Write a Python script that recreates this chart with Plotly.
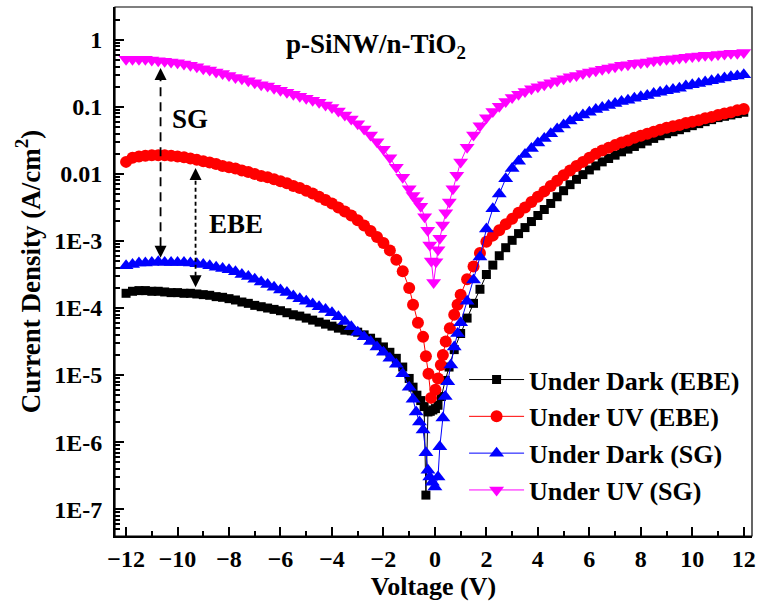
import plotly.graph_objects as go

# Bias sweep (V): coarse grid on both flanks, finer points around zero bias per series
VOLT_LEFT = [-12 + 0.25 * i for i in range(45)]   # -12 ... -1
VOLT_RIGHT = [1 + 0.25 * i for i in range(45)]    # 1 ... 12

# log10 of current density (A/cm^2)
# --- Under Dark (EBE)
dark_ebe_left = [-3.78, -3.75, -3.74, -3.74, -3.75, -3.75, -3.76, -3.77, -3.77, -3.78,
                 -3.78, -3.79, -3.80, -3.81, -3.83, -3.84, -3.86, -3.88, -3.91, -3.93,
                 -3.96, -3.98, -4.00, -4.02, -4.04, -4.07, -4.10, -4.12, -4.15, -4.18,
                 -4.21, -4.24, -4.27, -4.30, -4.33, -4.34, -4.36, -4.40, -4.45, -4.51,
                 -4.58, -4.66, -4.75, -4.88, -5.05]
dark_ebe_mid_v = [-0.85, -0.70, -0.55, -0.42, -0.35, -0.27, -0.18, -0.08, 0.02, 0.12,
                  0.25, 0.40, 0.55, 0.75]
dark_ebe_mid = [-5.18, -5.30, -5.38, -5.47, -6.79, -5.55, -5.54, -5.52, -5.50, -5.45,
                -5.32, -5.08, -4.88, -4.62]
dark_ebe_right = [-4.38, -4.15, -3.93, -3.72, -3.50, -3.36, -3.22, -3.10, -2.99, -2.89,
                  -2.80, -2.71, -2.62, -2.53, -2.44, -2.34, -2.25, -2.16, -2.08, -2.01,
                  -1.94, -1.88, -1.82, -1.77, -1.72, -1.67, -1.63, -1.59, -1.55, -1.51,
                  -1.47, -1.43, -1.40, -1.37, -1.34, -1.31, -1.28, -1.25, -1.22, -1.19,
                  -1.16, -1.14, -1.12, -1.10, -1.08]

# --- Under UV (EBE)
uv_ebe_left = [-1.82, -1.76, -1.74, -1.73, -1.72, -1.72, -1.72, -1.73, -1.74, -1.75,
               -1.77, -1.79, -1.81, -1.83, -1.85, -1.88, -1.90, -1.92, -1.95, -1.97,
               -2.00, -2.03, -2.05, -2.08, -2.11, -2.14, -2.18, -2.21, -2.25, -2.29,
               -2.34, -2.39, -2.44, -2.50, -2.56, -2.62, -2.69, -2.77, -2.85, -2.94,
               -3.03, -3.14, -3.28, -3.45, -3.70]
uv_ebe_mid_v = [-0.85, -0.66, -0.46, -0.35, -0.25, -0.15, 0.02, 0.12, 0.23, 0.31,
                0.42, 0.58, 0.75, 0.88]
uv_ebe_mid = [-3.95, -4.22, -4.43, -4.72, -4.98, -5.34, -5.22, -5.05, -4.85, -4.70,
              -4.50, -4.30, -4.10, -3.95]
uv_ebe_right = [-3.80, -3.57, -3.38, -3.18, -3.01, -2.92, -2.84, -2.75, -2.67, -2.58,
                -2.50, -2.42, -2.34, -2.26, -2.18, -2.10, -2.02, -1.95, -1.88, -1.82,
                -1.76, -1.70, -1.65, -1.61, -1.57, -1.53, -1.50, -1.46, -1.43, -1.40,
                -1.37, -1.34, -1.31, -1.29, -1.27, -1.24, -1.22, -1.20, -1.17, -1.15,
                -1.12, -1.10, -1.08, -1.05, -1.03]

# --- Under Dark (SG)
dark_sg_left = [-3.37, -3.35, -3.33, -3.33, -3.32, -3.31, -3.32, -3.32, -3.32, -3.32,
                -3.33, -3.34, -3.35, -3.37, -3.39, -3.41, -3.43, -3.46, -3.50, -3.53,
                -3.57, -3.61, -3.65, -3.69, -3.73, -3.77, -3.82, -3.86, -3.90, -3.94,
                -3.98, -4.02, -4.07, -4.13, -4.20, -4.28, -4.36, -4.43, -4.50, -4.58,
                -4.66, -4.75, -4.84, -4.98, -5.18]
dark_sg_mid_v = [-0.85, -0.73, -0.60, -0.46, -0.35, -0.27, -0.20, -0.10, 0.00, 0.12,
                 0.19, 0.31, 0.40, 0.50, 0.62, 0.75, 0.88]
dark_sg_mid = [-5.36, -5.55, -5.70, -5.82, -6.16, -6.42, -6.52, -6.60, -6.67, -6.52,
               -6.07, -5.64, -5.32, -5.10, -4.85, -4.58, -4.38]
dark_sg_right = [-4.22, -3.90, -3.58, -3.24, -2.82, -2.52, -2.30, -2.07, -1.92, -1.81,
                 -1.71, -1.62, -1.54, -1.47, -1.40, -1.33, -1.27, -1.21, -1.16, -1.12,
                 -1.08, -1.04, -1.01, -0.98, -0.95, -0.92, -0.90, -0.87, -0.85, -0.83,
                 -0.80, -0.78, -0.76, -0.74, -0.72, -0.69, -0.67, -0.65, -0.63, -0.61,
                 -0.59, -0.57, -0.55, -0.54, -0.52]

# --- Under UV (SG)
uv_sg_left = [-0.29, -0.29, -0.29, -0.29, -0.30, -0.31, -0.32, -0.33, -0.34, -0.36,
              -0.38, -0.40, -0.43, -0.45, -0.48, -0.50, -0.53, -0.56, -0.58, -0.61,
              -0.64, -0.67, -0.69, -0.72, -0.75, -0.78, -0.81, -0.84, -0.87, -0.90,
              -0.93, -0.97, -1.01, -1.06, -1.12, -1.18, -1.25, -1.33, -1.42, -1.52,
              -1.63, -1.76, -1.90, -2.05, -2.22]
uv_sg_mid_v = [-0.85, -0.70, -0.55, -0.40, -0.28, -0.20, -0.14, -0.05, 0.04, 0.12,
               0.19, 0.30, 0.42, 0.56, 0.70, 0.85]
uv_sg_mid = [-2.32, -2.40, -2.48, -2.64, -2.84, -3.06, -3.30, -3.62, -3.31, -3.13,
             -2.96, -2.76, -2.58, -2.42, -2.22, -2.02]
uv_sg_right = [-1.82, -1.60, -1.42, -1.28, -1.16, -1.07, -0.99, -0.92, -0.86, -0.81,
               -0.77, -0.73, -0.70, -0.67, -0.64, -0.61, -0.58, -0.55, -0.53, -0.50,
               -0.48, -0.46, -0.44, -0.42, -0.40, -0.38, -0.37, -0.35, -0.34, -0.33,
               -0.31, -0.30, -0.29, -0.28, -0.27, -0.26, -0.25, -0.24, -0.23, -0.23,
               -0.22, -0.21, -0.20, -0.20, -0.19]

SERIES = [
    ("Under Dark (EBE)", dark_ebe_left, dark_ebe_mid_v, dark_ebe_mid, dark_ebe_right,
     "#000000", "square", 9),
    ("Under UV (EBE)", uv_ebe_left, uv_ebe_mid_v, uv_ebe_mid, uv_ebe_right,
     "#FF0000", "circle", 12),
    ("Under Dark (SG)", dark_sg_left, dark_sg_mid_v, dark_sg_mid, dark_sg_right,
     "#0000FF", "triangle-up", 13),
    ("Under UV (SG)", uv_sg_left, uv_sg_mid_v, uv_sg_mid, uv_sg_right,
     "#FF00FF", "triangle-down", 13),
]

Y_TICK_VALS = [1e-7, 1e-6, 1e-5, 1e-4, 1e-3, 1e-2, 1e-1, 1]
Y_TICK_TEXT = ["1E-7", "1E-6", "1E-5", "1E-4", "1E-3", "0.01", "0.1", "1"]
X_TICK_VALS = [-12, -10, -8, -6, -4, -2, 0, 2, 4, 6, 8, 10, 12]

# Double arrows: (voltage, log10 of upper tip, log10 of lower tip, dash pattern)
ARROWS = [
    (-10.66, -0.42, -3.25, "9px,6px"),   # SG: dark -> UV
    (-9.30, -1.91, -3.69, "4px,3px"),    # EBE: dark -> UV
]
HEAD = 0.17   # arrowhead length in decades

FONT = "Liberation Serif, Times New Roman, serif"

fig = go.Figure()
for name, left, mid_v, mid, right, color, symbol, size in SERIES:
    volts = VOLT_LEFT + mid_v + VOLT_RIGHT
    logj = left + mid + right
    fig.add_trace(go.Scatter(
        x=volts,
        y=[10 ** v for v in logj],
        mode="lines+markers",
        name=name,
        line=dict(color=color, width=1),
        marker=dict(symbol=symbol, size=size, color=color, line=dict(width=0)),
    ))

for vx, top, bot, dash in ARROWS:
    fig.add_trace(go.Scatter(
        x=[vx, vx], y=[10 ** (bot + HEAD), 10 ** (top - HEAD)],
        mode="lines", line=dict(color="black", width=1.8, dash=dash),
        showlegend=False, hoverinfo="skip",
    ))
    fig.add_trace(go.Scatter(
        x=[vx, vx], y=[10 ** top, 10 ** bot],
        mode="markers",
        marker=dict(symbol=["arrow-up", "arrow-down"], size=12, color="black",
                    line=dict(width=0)),
        showlegend=False, hoverinfo="skip",
    ))

fig.add_annotation(x=0.117, y=0.788, xref="paper", yref="paper", text="SG",
                   xanchor="center", yanchor="middle", showarrow=False,
                   font=dict(size=27, family=FONT, color="black", weight="bold"))
fig.add_annotation(x=0.19, y=0.59, xref="paper", yref="paper", text="EBE",
                   xanchor="center", yanchor="middle", showarrow=False,
                   font=dict(size=27, family=FONT, color="black", weight="bold"))
fig.add_annotation(x=0.41, y=0.962, xref="paper", yref="paper",
                   text="p-SiNW/n-TiO<sub>2</sub>",
                   xanchor="center", yanchor="top", showarrow=False,
                   font=dict(size=27, family=FONT, color="black", weight="bold"))

# thin frame on the top and right sides
fig.add_shape(type="rect", xref="paper", yref="paper", x0=0, x1=1, y0=0, y1=1,
              line=dict(color="black", width=1.2), layer="above")

fig.update_layout(
    width=760, height=608,
    margin=dict(l=115, r=4, t=7, b=72),
    paper_bgcolor="white", plot_bgcolor="white",
    font=dict(family=FONT, color="black", size=24, weight="bold"),
    showlegend=True,
    legend=dict(x=0.548, y=0.34, xanchor="left", yanchor="top",
                bgcolor="rgba(0,0,0,0)", font=dict(size=26, family=FONT, weight="bold"),
                itemwidth=55, tracegroupgap=4),
)
fig.update_xaxes(
    range=[-12.43, 12.32], tickvals=X_TICK_VALS,
    showline=True, linewidth=2, linecolor="black",
    ticks="inside", ticklen=9, tickwidth=2, tickcolor="black",
    minor=dict(ticks="inside", ticklen=5, tickwidth=2, dtick=1, tick0=-12,
               tickcolor="black"),
    showgrid=False, zeroline=False,
    tickfont=dict(size=24, family=FONT, weight="bold"),
    title=dict(text="Voltage (V)", standoff=4,
               font=dict(size=26, family=FONT, weight="bold")),
)
fig.update_yaxes(
    type="log", range=[-7.40, 0.49],
    tickvals=Y_TICK_VALS, ticktext=Y_TICK_TEXT,
    showline=True, linewidth=2, linecolor="black",
    ticks="inside", ticklen=9, tickwidth=2, tickcolor="black",
    minor=dict(ticks="inside", ticklen=5, tickwidth=1.5, dtick="D1",
               tickcolor="black"),
    showgrid=False, zeroline=False,
    ticklabelstandoff=6,
    tickfont=dict(size=24, family=FONT, weight="bold"),
    title=dict(text="Current Density (A/cm<sup>2</sup>)", standoff=6,
               font=dict(size=27, family=FONT, weight="bold")),
)

fig.write_html("out.html")
